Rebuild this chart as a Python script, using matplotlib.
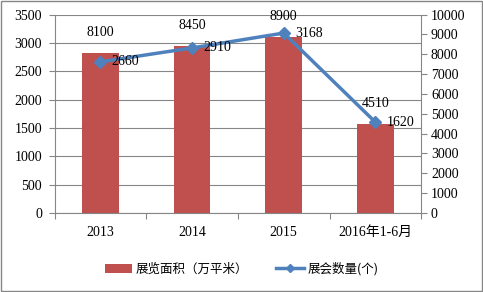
import numpy as np
import matplotlib
matplotlib.use("Agg")
import matplotlib.pyplot as plt
from matplotlib.patches import Rectangle

plt.rcParams['font.family'] = ['Liberation Serif', 'Noto Sans CJK SC']

# data
categories = ['2013', '2014', '2015', '2016年1-6月']
area = [2820, 2950, 3100, 1570]          # bar heights, left axis
count = [7620, 8320, 9070, 4580]         # line points, right axis
area_labels = ['8100', '8450', '8900', '4510']
count_labels = ['2660', '2910', '3168', '1620']

bar_color = '#C0504D'
line_color = '#4F81BD'
axis_gray = '#868686'

fig = plt.figure(figsize=(4.83, 2.92), dpi=100)
ax = fig.add_axes([0.113, 0.2705, 0.759, 0.6795])
ax2 = ax.twinx()

x = np.arange(len(categories))
bars = ax.bar(x, area, width=0.4, color=bar_color, label='展览面积（万平米）', zorder=2)
line, = ax2.plot(x, count, color=line_color, lw=2.5, marker='D', ms=6,
                 label='展会数量(个)', zorder=3)

ax.set_xlim(-0.5, len(categories) - 0.5)
ax.set_ylim(0, 3500)
ax.set_yticks(np.arange(0, 3501, 500))
ax2.set_ylim(0, 10000)
ax2.set_yticks(np.arange(0, 10001, 1000))

ax.yaxis.grid(True, color=axis_gray, lw=0.8)
ax.set_axisbelow(True)

# category ticks on boundaries, labels centered
ax.set_xticks(np.arange(-0.5, len(categories)), minor=False)
ax.set_xticklabels([])
ax.set_xticks(x, minor=True)
ax.set_xticklabels(categories, minor=True, fontsize=10)
ax.tick_params(axis='x', which='minor', length=0, pad=9)
ax.tick_params(axis='x', which='major', length=4, color=axis_gray)
ax.tick_params(axis='y', length=4, color=axis_gray, labelsize=10, pad=5)
ax2.tick_params(axis='y', length=4, color=axis_gray, labelsize=10, pad=3)

for a in (ax, ax2):
    a.spines['top'].set_visible(False)
    for s in ('left', 'right', 'bottom'):
        a.spines[s].set_color(axis_gray)
ax.spines['right'].set_visible(False)
ax2.spines['left'].set_visible(False)
ax2.spines['bottom'].set_visible(False)

for xi, h, lab in zip(x, area, area_labels):
    ax.annotate(lab, (xi, h), xytext=(0, 10), textcoords='offset points',
                ha='center', va='bottom', fontsize=10)
for xi, v, lab in zip(x, count, count_labels):
    ax2.annotate(lab, (xi, v), xytext=(8, 0), textcoords='offset points',
                 ha='left', va='center', fontsize=10)

fig.legend(handles=[bars, line], loc='center', bbox_to_anchor=(0.5, 0.079),
           ncol=2, frameon=False, prop={'family': ['Noto Sans CJK SC'], 'size': 9},
           handlelength=2.2, columnspacing=2.2, handletextpad=0.3, markerscale=0.7)

fig.patches.append(Rectangle((0.002, 0.004), 0.995, 0.992, transform=fig.transFigure,
                             fill=False, edgecolor=axis_gray, lw=1))

fig.savefig('out.png', dpi=100)
